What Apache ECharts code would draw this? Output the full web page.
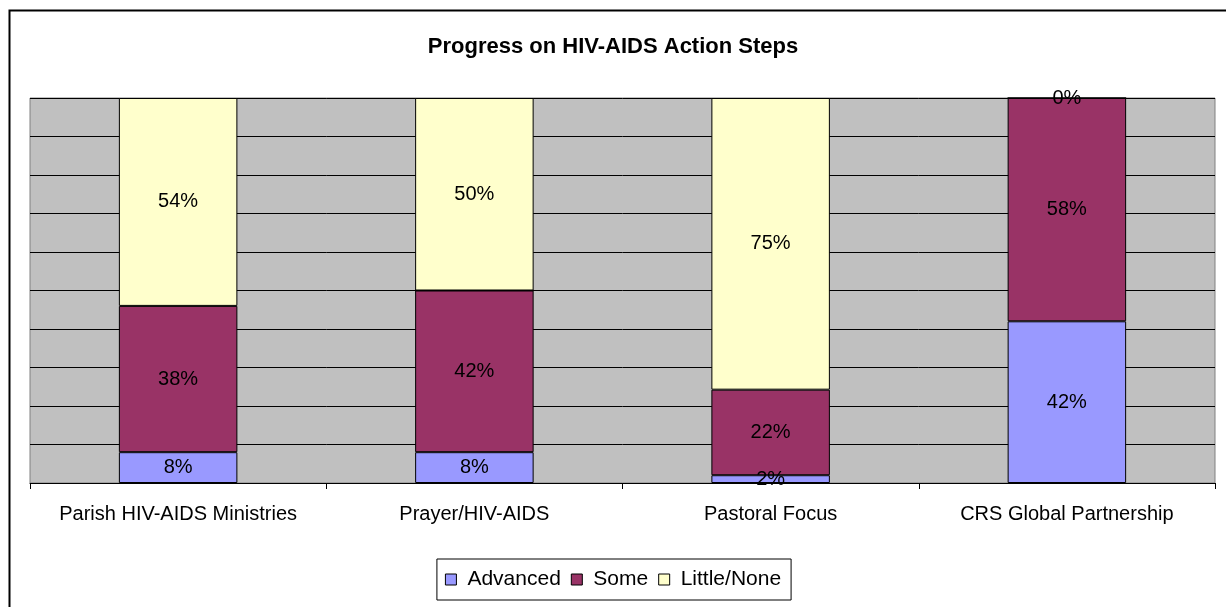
<!DOCTYPE html>
<html>
<head>
<meta charset="utf-8">
<style>
html,body{margin:0;padding:0;background:#fff;}
#c{width:1226px;height:607px;}
</style>
<script src="https://cdn.jsdelivr.net/npm/echarts@6/dist/echarts.min.js"></script>
</head>
<body>
<div id="c"></div>
<script>
const categories = ['Parish HIV-AIDS Ministries', 'Prayer/HIV-AIDS', 'Pastoral Focus', 'CRS Global Partnership'];
const advanced = [8, 8, 2, 42];
const some = [38, 42, 22, 58];
const littleNone = [54, 50, 75, 0];
const seriesNames = ['Advanced', 'Some', 'Little/None'];
const colors = ['#9999FF', '#993366', '#FFFFCC'];

const raw = [advanced, some, littleNone];
const totals = categories.map((_, i) => raw.reduce((s, arr) => s + arr[i], 0));

const chart = echarts.init(document.getElementById('c'));
const font = 'Arial, "Liberation Sans", sans-serif';

const series = raw.map((arr, k) => ({
  name: seriesNames[k],
  type: 'bar',
  stack: 'total',
  barWidth: '40%',
  data: arr.map((v, i) => ({ value: v / totals[i] * 100, raw: v })),
  itemStyle: { color: colors[k], borderColor: '#000', borderWidth: 1 },
  label: {
    show: true,
    position: 'inside',
    color: '#000',
    fontFamily: font,
    fontSize: 20,
    formatter: p => p.data.raw + '%'
  },
  labelLayout: { hideOverlap: false },
  emphasis: { disabled: true }
}));

chart.setOption({
  animation: false,
  backgroundColor: '#fff',
  title: {
    text: 'Progress on HIV-AIDS Action Steps',
    left: 'center',
    top: 31,
    textStyle: { fontFamily: font, fontSize: 22, fontWeight: 'bold', color: '#000' }
  },
  legend: {
    bottom: 7,
    left: 'center',
    itemWidth: 11,
    itemHeight: 11,
    itemGap: 10,
    icon: 'rect',
    padding: [10, 10, 10, 8],
    borderColor: '#000',
    borderWidth: 1,
    textStyle: { fontFamily: font, fontSize: 21, color: '#000', padding: [0, 0, 0, 6] },
    itemStyle: { borderColor: '#000', borderWidth: 1 },
    data: seriesNames
  },
  grid: {
    left: 30, right: 11, top: 98, bottom: 124,
    show: true,
    backgroundColor: '#C0C0C0',
    borderColor: '#808080',
    borderWidth: 1
  },
  xAxis: {
    type: 'category',
    data: categories,
    axisLine: { lineStyle: { color: '#000', width: 1 } },
    axisTick: { show: true, interval: 0, length: 6, lineStyle: { color: '#000' } },
    axisLabel: { interval: 0, fontFamily: font, fontSize: 20, color: '#000', margin: 21 }
  },
  yAxis: {
    type: 'value',
    min: 0,
    max: 100,
    interval: 10,
    axisLine: { show: false },
    axisTick: { show: false },
    axisLabel: { show: false },
    splitLine: { lineStyle: { color: '#000', width: 1 } }
  },
  graphic: [{
    type: 'rect',
    shape: { x: 9.5, y: 10.5, width: 1240, height: 620 },
    style: { fill: 'none', stroke: '#000', lineWidth: 2 },
    silent: true
  }],
  series: series
});
</script>
</body>
</html>
